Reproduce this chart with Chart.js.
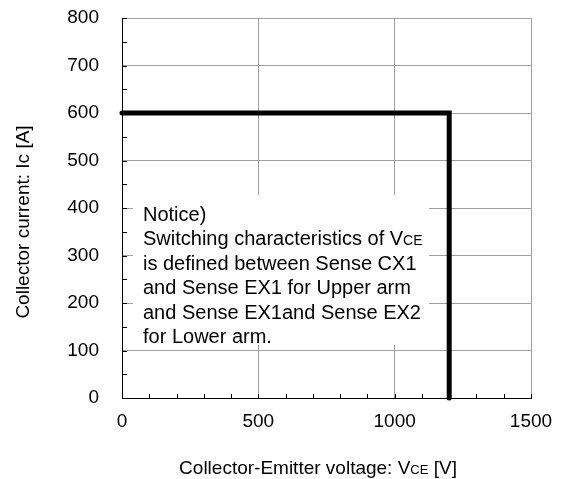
<!DOCTYPE html>
<html><head><meta charset="utf-8">
<script src="https://cdn.jsdelivr.net/npm/chart.js@4"></script>
<style>html,body{margin:0;padding:0;background:#fff}#wrap{width:562px;height:479px}</style>
</head><body><div id="wrap"><canvas id="c" width="562" height="479"></canvas></div>
<script>
const voltage = [0, 1200, 1200];
const current = [600, 600, 0];
const xTicks = [0, 500, 1000, 1500];
const yTicks = [0, 100, 200, 300, 400, 500, 600, 700, 800];
const noticeLines = ["Notice)", "Switching characteristics of V|CE", "is defined between Sense CX1", "and Sense EX1 for Upper arm", "and Sense EX1and Sense EX2", "for Lower arm."];
const xTitle = ["Collector-Emitter voltage: V", "CE", " [V]"];
const yTitle = "Collector current: Ic [A]";

const FONT = "'Liberation Sans', Arial, sans-serif";
const AREA = {left:122, right:531, top:18, bottom:398};
const TICK_FS = 19, TITLE_FS = 19, NOTE_FS = 20;

const deco = {
  id:'deco',
  beforeDatasetsDraw(chart){
    const ctx = chart.ctx, xs = chart.scales.x, ys = chart.scales.y;
    ctx.save();
    ctx.strokeStyle = '#000'; ctx.lineWidth = 1;
    for (let v = 0; v <= 1500; v += 100){
      const px = Math.round(xs.getPixelForValue(v)) + 0.5;
      ctx.beginPath(); ctx.moveTo(px, ys.bottom); ctx.lineTo(px, ys.bottom - 4); ctx.stroke();
    }
    for (let v = 0; v <= 800; v += 50){
      const py = Math.round(ys.getPixelForValue(v)) + 0.5;
      ctx.beginPath(); ctx.moveTo(xs.left, py); ctx.lineTo(xs.left + 5, py); ctx.stroke();
    }
    ctx.fillStyle = '#fff';
    ctx.fillRect(133, 195, 296, 150);
    ctx.fillStyle = '#000';
    ctx.textBaseline = 'alphabetic';
    noticeLines.forEach((ln, i) => {
      const y = 221 + i * 24.4;
      const parts = ln.split('|');
      ctx.font = NOTE_FS + 'px ' + FONT;
      ctx.fillText(parts[0], 143, y);
      if (parts[1]) {
        const w = ctx.measureText(parts[0]).width;
        ctx.font = Math.round(NOTE_FS*0.7) + 'px ' + FONT;
        ctx.fillText(parts[1], 143 + w, y);
      }
    });
    ctx.restore();
  },
  afterDraw(chart){
    const ctx = chart.ctx;
    ctx.save();
    ctx.fillStyle = '#000';
    const fs = TITLE_FS, sfs = Math.round(TITLE_FS*0.7);
    ctx.font = fs + 'px ' + FONT;
    const w0 = ctx.measureText(xTitle[0]).width;
    const w2 = ctx.measureText(xTitle[2]).width;
    ctx.font = sfs + 'px ' + FONT;
    const w1 = ctx.measureText(xTitle[1]).width;
    let x = 318 - (w0 + w1 + w2)/2;
    const y = 474;
    ctx.textBaseline = 'alphabetic';
    ctx.font = fs + 'px ' + FONT; ctx.fillText(xTitle[0], x, y); x += w0;
    ctx.font = sfs + 'px ' + FONT; ctx.fillText(xTitle[1], x, y); x += w1;
    ctx.font = fs + 'px ' + FONT; ctx.fillText(xTitle[2], x, y);
    ctx.translate(24, 222);
    ctx.rotate(-Math.PI/2);
    ctx.textAlign = 'center'; ctx.textBaseline = 'middle';
    ctx.font = fs + 'px ' + FONT;
    ctx.fillText(yTitle, 0, 0);
    ctx.restore();
  }
};

new Chart(document.getElementById('c'), {
  type:'scatter',
  data:{ datasets:[{
    data: voltage.map((v,i)=>({x:v, y:current[i]})),
    showLine:true, borderColor:'#000', borderWidth:5, pointRadius:0,
    borderCapStyle:'round', borderJoinStyle:'miter', tension:0, clip:false
  }]},
  options:{
    responsive:false, animation:false, devicePixelRatio:1,
    layout:{padding:{left:0, right:562-AREA.right, top:AREA.top, bottom:0}},
    plugins:{legend:{display:false}, tooltip:{enabled:false}},
    scales:{
      x:{ type:'linear', min:0, max:1500,
        afterBuildTicks(s){ s.ticks = xTicks.map(v=>({value:v})); },
        afterFit(s){ s.height = 479 - AREA.bottom; },
        grid:{color:'#a0a0a0', lineWidth:1, drawTicks:true, tickLength:12, tickColor:'rgba(0,0,0,0)'},
        border:{color:'#000', width:1},
        ticks:{color:'#000', font:{family:FONT, size:TICK_FS}, padding:0, maxRotation:0, autoSkip:false, callback:v=>String(v)}
      },
      y:{ type:'linear', min:0, max:800,
        afterBuildTicks(s){ s.ticks = yTicks.map(v=>({value:v})); },
        afterFit(s){ s.width = AREA.left; },
        grid:{color:'#a0a0a0', lineWidth:1, drawTicks:true, tickLength:23, tickColor:'rgba(0,0,0,0)'},
        border:{color:'#000', width:1},
        ticks:{color:'#000', font:{family:FONT, size:TICK_FS}, padding:0, autoSkip:false, callback:v=>String(v)}
      }
    }
  },
  plugins:[deco]
});
</script></body></html>
